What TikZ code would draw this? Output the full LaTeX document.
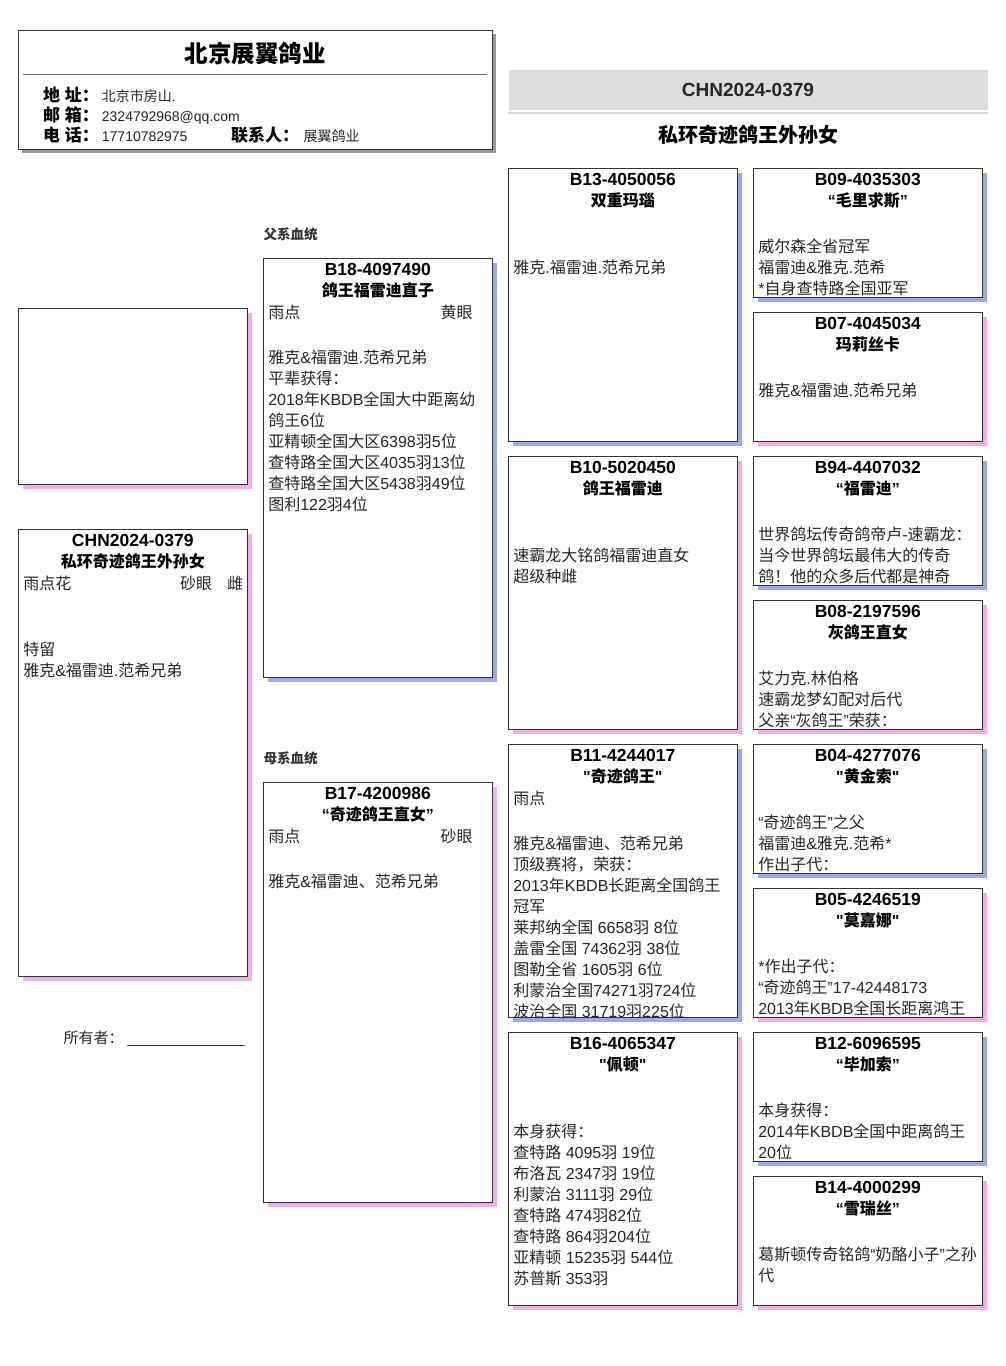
\documentclass[tikz,border=0pt]{standalone}
\usepackage{fontspec}
\setmainfont{Liberation Sans}
\newfontfamily\cjkfam{Noto Sans CJK SC}
\newfontfamily\latfam{Liberation Sans}
\usetikzlibrary{shadows,calc}
\XeTeXinterchartokenstate=1
\chardef\cjkcls=100
\newcount\cjkc
\def\setcjkrange#1#2{\cjkc=#1\relax\loop\XeTeXcharclass\cjkc=\cjkcls\relax\ifnum\cjkc<#2\relax\advance\cjkc by 1\relax\repeat}
\setcjkrange{"3000}{"303F}
\setcjkrange{"4E00}{"9FFF}
\setcjkrange{"FF00}{"FFEF}
\XeTeXinterchartoks 0 \cjkcls = {\cjkfam}
\XeTeXinterchartoks 1 \cjkcls = {\cjkfam}
\XeTeXinterchartoks 2 \cjkcls = {\cjkfam}
\XeTeXinterchartoks 3 \cjkcls = {\cjkfam}
\XeTeXinterchartoks 4095 \cjkcls = {\cjkfam}
\XeTeXinterchartoks \cjkcls 0 = {\latfam}
\XeTeXinterchartoks \cjkcls 1 = {\latfam}
\XeTeXinterchartoks \cjkcls 2 = {\latfam}
\XeTeXinterchartoks \cjkcls 3 = {\latfam}
\XeTeXinterchartoks \cjkcls 4095 = {\latfam}
\definecolor{shblue}{HTML}{9DAAE8}
\definecolor{shpink}{HTML}{F2AEE6}
\definecolor{shgray}{HTML}{9A9A9A}
\definecolor{bordc}{HTML}{333333}
\definecolor{bandc}{HTML}{DDDDDD}
\definecolor{txtc}{HTML}{262626}
\definecolor{divc}{HTML}{707070}
\newcommand\pgbox[7]{%
  \node[bx,#5,minimum height=#4,anchor=north west] (#1) at (#2,#3) {};
  \node[idtxt,anchor=base] (#1-id) at ($(#1.north)+(0,17)$) {#6};
  \node[tttxt,anchor=base] (#1-tt) at ($(#1.north)+(0,38)$) {#7};}
\newcommand\pgrow[3]{%
  \pgfmathsetmacro\pgrowoff{ifthenelse(#2==0,60,63+21*#2)}%
  \node[body,anchor=base west] (#1-r#2) at ($(#1.north west)+(5,\pgrowoff)$) {#3};}
\begin{document}
\begin{tikzpicture}[x=1pt,y=-1pt,
  bx/.style={draw=bordc,line width=1pt,fill=white,minimum width=229pt,inner sep=0pt,outer sep=0pt},
  shb/.style={drop shadow={shadow xshift=4.5pt,shadow yshift=-4.5pt,fill=shblue,opacity=1}},
  shp/.style={drop shadow={shadow xshift=4.5pt,shadow yshift=-4.5pt,fill=shpink,opacity=1}},
  shg/.style={drop shadow={shadow xshift=3.5pt,shadow yshift=-3.5pt,fill=shgray,opacity=1}},
  body/.style={font=\latfam\fontsize{16}{19}\selectfont,text=txtc,inner sep=0pt,outer sep=0pt},
  idtxt/.style={font=\latfam\fontsize{17.5}{20}\selectfont\bfseries,text=black,inner sep=0pt},
  tttxt/.style={font=\latfam\fontsize{16}{19}\selectfont\bfseries,text=black,inner sep=0pt},
  lab/.style={font=\latfam\fontsize{17}{20}\selectfont\bfseries,text=black,inner sep=0pt,anchor=base west},
  val/.style={font=\latfam\fontsize{14}{17}\selectfont,text=txtc,inner sep=0pt,anchor=base west},
  sect/.style={font=\latfam\fontsize{13.5}{16}\selectfont\bfseries,text=bordc,inner sep=0pt,anchor=base west}]
\fill[white] (0,0) rectangle (1006,1366);
\useasboundingbox (0,0) rectangle (1006,1366);

% header box
\node[bx,shg,minimum width=474pt,minimum height=118.3pt,anchor=north west] (hdr) at (18.3,30.7) {};
\node[font=\latfam\fontsize{23.5}{26}\selectfont\bfseries,anchor=base,inner sep=0pt] (hdrt) at (255,62) {北京展翼鸽业};
\draw[divc,line width=1pt] (23.3,74) -- (487.3,74);
\node[lab] (l1) at (43,101) {地 址：};
\node[val] (v1) at (101.7,101) {北京市房山.};
\node[lab] (l2) at (43,121.5) {邮 箱：};
\node[val] (v2) at (101.7,121.5) {2324792968@qq.com};
\node[lab] (l3) at (43,141) {电 话：};
\node[val] (v3) at (101.7,141) {17710782975};
\node[lab] (l4) at (231,141) {联系人：};
\node[val] (v4) at (303.3,141) {展翼鸽业};

% right header
\node[fill=bandc,minimum width=479.4pt,minimum height=39.3pt,anchor=north west,inner sep=0pt] (band) at (508.3,70) {};
\node[font=\latfam\fontsize{19}{22}\selectfont\bfseries,text=txtc,anchor=base,inner sep=0pt] (bandt) at (748,96.5) {CHN2024-0379};
\draw[bandc,line width=2.3pt] (508.3,112.8) -- (987.7,112.8);
\node[font=\latfam\fontsize{20}{24}\selectfont\bfseries,anchor=base,inner sep=0pt] (ptitle) at (748,142.5) {私环奇迹鸽王外孙女};

% section labels
\node[sect] (fx) at (263.3,239) {父系血统};
\node[sect] (mx) at (263.3,763.5) {母系血统};

% photo box and main bird
\node[bx,shp,minimum height=176pt,anchor=north west] (photo) at (18.3,308.3) {};
\pgbox{main}{18.3}{529.3}{446.7pt}{shp}{CHN2024-0379}{私环奇迹鸽王外孙女}
\pgrow{main}{0}{雨点花}
\node[body,anchor=base west] (main-eye) at (180,589.3) {砂眼};
\node[body,anchor=base east] (main-sex) at (243,589.3) {雌};
\pgrow{main}{3}{特留}
\pgrow{main}{4}{雅克\&福雷迪.范希兄弟}
\node[font=\latfam\fontsize{15}{18}\selectfont,text=txtc,anchor=base west,inner sep=0pt] (owner) at (63.3,1043.5) {所有者： \_\_\_\_\_\_\_\_\_\_\_\_\_\_};

% parents
\pgbox{b18}{263.3}{258.3}{419pt}{shb}{B18-4097490}{鸽王福雷迪直子}
\pgrow{b18}{0}{雨点}
\node[body,anchor=base east] (b18-eye) at (472.7,318.3) {黄眼};
\pgrow{b18}{2}{雅克\&福雷迪.范希兄弟}
\pgrow{b18}{3}{平辈获得：}
\pgrow{b18}{4}{2018年KBDB全国大中距离幼}
\pgrow{b18}{5}{鸽王6位}
\pgrow{b18}{6}{亚精顿全国大区6398羽5位}
\pgrow{b18}{7}{查特路全国大区4035羽13位}
\pgrow{b18}{8}{查特路全国大区5438羽49位}
\pgrow{b18}{9}{图利122羽4位}

\pgbox{b17}{263.3}{782.3}{420pt}{shp}{B17-4200986}{“奇迹鸽王直女”}
\pgrow{b17}{0}{雨点}
\node[body,anchor=base east] (b17-eye) at (472.7,842.3) {砂眼};
\pgrow{b17}{2}{雅克\&福雷迪、范希兄弟}

% grandparents
\pgbox{b13}{508.3}{168.3}{273pt}{shb}{B13-4050056}{双重玛瑙}
\pgrow{b13}{2}{雅克.福雷迪.范希兄弟}

\pgbox{b10}{508.3}{456.3}{273pt}{shp}{B10-5020450}{鸽王福雷迪}
\pgrow{b10}{2}{速霸龙大铭鸽福雷迪直女}
\pgrow{b10}{3}{超级种雌}

\pgbox{b11}{508.3}{744.3}{273pt}{shb}{B11-4244017}{"奇迹鸽王"}
\pgrow{b11}{0}{雨点}
\pgrow{b11}{2}{雅克\&福雷迪、范希兄弟}
\pgrow{b11}{3}{顶级赛将，荣获：}
\pgrow{b11}{4}{2013年KBDB长距离全国鸽王}
\pgrow{b11}{5}{冠军}
\pgrow{b11}{6}{莱邦纳全国 6658羽 8位}
\pgrow{b11}{7}{盖雷全国 74362羽 38位}
\pgrow{b11}{8}{图勒全省 1605羽 6位}
\pgrow{b11}{9}{利蒙治全国74271羽724位}
\pgrow{b11}{10}{波治全国 31719羽225位}

\pgbox{b16}{508.3}{1032.3}{273pt}{shp}{B16-4065347}{"佩顿"}
\pgrow{b16}{2}{本身获得：}
\pgrow{b16}{3}{查特路 4095羽 19位}
\pgrow{b16}{4}{布洛瓦 2347羽 19位}
\pgrow{b16}{5}{利蒙治 3111羽 29位}
\pgrow{b16}{6}{查特路 474羽82位}
\pgrow{b16}{7}{查特路 864羽204位}
\pgrow{b16}{8}{亚精顿 15235羽 544位}
\pgrow{b16}{9}{苏普斯 353羽}

% great-grandparents
\pgbox{b09}{753.3}{168.3}{129pt}{shb}{B09-4035303}{“毛里求斯”}
\pgrow{b09}{1}{威尔森全省冠军}
\pgrow{b09}{2}{福雷迪\&雅克.范希}
\pgrow{b09}{3}{*自身查特路全国亚军}

\pgbox{b07}{753.3}{312.3}{129pt}{shp}{B07-4045034}{玛莉丝卡}
\pgrow{b07}{1}{雅克\&福雷迪.范希兄弟}

\pgbox{b94}{753.3}{456.3}{129pt}{shb}{B94-4407032}{“福雷迪”}
\pgrow{b94}{1}{世界鸽坛传奇鸽帝卢-速霸龙：}
\pgrow{b94}{2}{当今世界鸽坛最伟大的传奇}
\pgrow{b94}{3}{鸽！他的众多后代都是神奇}

\pgbox{b08}{753.3}{600.3}{129pt}{shp}{B08-2197596}{灰鸽王直女}
\pgrow{b08}{1}{艾力克.林伯格}
\pgrow{b08}{2}{速霸龙梦幻配对后代}
\pgrow{b08}{3}{父亲“灰鸽王”荣获：}

\pgbox{b04}{753.3}{744.3}{129pt}{shb}{B04-4277076}{"黄金索"}
\pgrow{b04}{1}{“奇迹鸽王”之父}
\pgrow{b04}{2}{福雷迪\&雅克.范希*}
\pgrow{b04}{3}{作出子代：}

\pgbox{b05}{753.3}{888.3}{129pt}{shp}{B05-4246519}{"莫嘉娜"}
\pgrow{b05}{1}{*作出子代：}
\pgrow{b05}{2}{“奇迹鸽王”17-42448173}
\pgrow{b05}{3}{2013年KBDB全国长距离鸿王}

\pgbox{b12}{753.3}{1032.3}{129pt}{shb}{B12-6096595}{“毕加索”}
\pgrow{b12}{1}{本身获得：}
\pgrow{b12}{2}{2014年KBDB全国中距离鸽王}
\pgrow{b12}{3}{20位}

\pgbox{b14}{753.3}{1176.3}{129pt}{shp}{B14-4000299}{“雪瑞丝”}
\pgrow{b14}{1}{葛斯顿传奇铭鸽“奶酪小子”之孙}
\pgrow{b14}{2}{代}
\end{tikzpicture}
\end{document}
